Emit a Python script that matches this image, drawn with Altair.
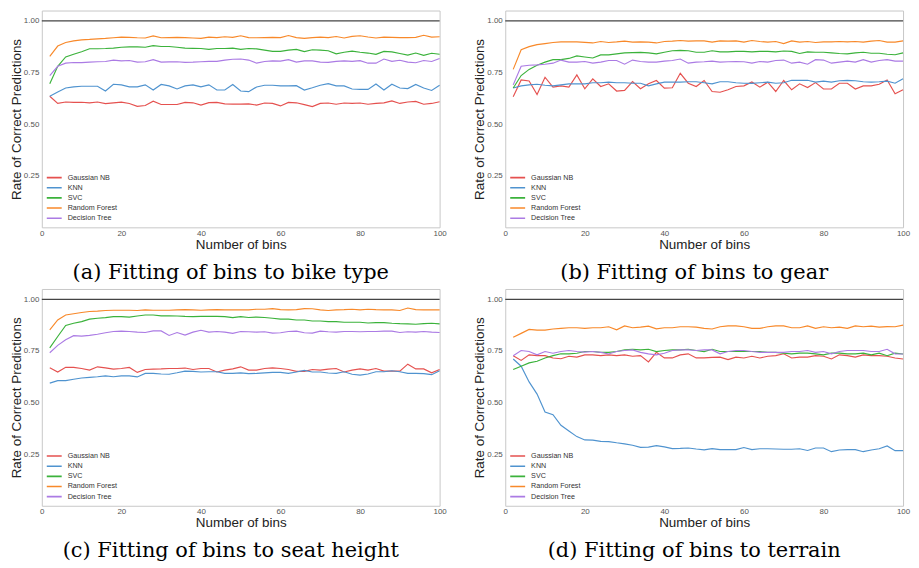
import altair as alt
import pandas as pd

models = ["Gaussian NB", "KNN", "SVC", "Random Forest", "Decision Tree"]
colors = ["#e5514f", "#4f93cf", "#3bb23b", "#f8892a", "#ab7be4"]
bins = list(range(2, 101, 2))
y_ticks = [0.25, 0.5, 0.75, 1.0]
x_ticks = [0, 20, 40, 60, 80, 100]

captions = {
    "a": "(a) Fitting of bins to bike type",
    "b": "(b) Fitting of bins to gear",
    "c": "(c) Fitting of bins to seat height",
    "d": "(d) Fitting of bins to terrain",
}

# ---- panel (a) bike type
a_gnb = [0.635,0.600,0.607,0.605,0.606,0.603,0.607,0.599,0.603,0.606,
         0.600,0.586,0.590,0.611,0.595,0.595,0.595,0.605,0.603,0.592,
         0.604,0.605,0.598,0.597,0.597,0.598,0.592,0.602,0.600,0.588,
         0.605,0.603,0.594,0.585,0.600,0.602,0.596,0.602,0.600,0.602,
         0.596,0.600,0.603,0.612,0.600,0.607,0.610,0.596,0.600,0.608]
a_knn = [0.635,0.655,0.675,0.680,0.683,0.683,0.683,0.660,0.693,0.690,
         0.680,0.680,0.690,0.665,0.692,0.685,0.670,0.685,0.690,0.680,
         0.690,0.665,0.665,0.692,0.660,0.657,0.680,0.688,0.688,0.685,
         0.685,0.686,0.665,0.676,0.688,0.696,0.685,0.685,0.670,0.668,
         0.668,0.694,0.665,0.693,0.675,0.672,0.692,0.675,0.663,0.688]
a_svc = [0.695,0.780,0.825,0.838,0.850,0.865,0.865,0.866,0.868,0.872,
         0.874,0.874,0.872,0.880,0.876,0.876,0.872,0.868,0.867,0.866,
         0.862,0.866,0.866,0.868,0.862,0.866,0.864,0.858,0.852,0.852,
         0.858,0.862,0.851,0.860,0.858,0.855,0.840,0.848,0.853,0.848,
         0.844,0.838,0.852,0.850,0.842,0.834,0.844,0.833,0.843,0.838]
a_rf = [0.828,0.878,0.895,0.903,0.908,0.910,0.913,0.915,0.918,0.921,
        0.920,0.918,0.917,0.927,0.918,0.919,0.920,0.919,0.917,0.915,
        0.921,0.919,0.923,0.920,0.928,0.919,0.918,0.919,0.920,0.919,
        0.929,0.919,0.915,0.919,0.921,0.919,0.924,0.917,0.925,0.928,
        0.922,0.917,0.921,0.920,0.919,0.919,0.920,0.930,0.921,0.923]
a_dt = [0.735,0.780,0.795,0.798,0.798,0.800,0.802,0.803,0.810,0.806,
        0.808,0.800,0.802,0.812,0.800,0.801,0.802,0.799,0.800,0.802,
        0.804,0.804,0.810,0.814,0.815,0.810,0.795,0.803,0.806,0.805,
        0.812,0.800,0.806,0.806,0.800,0.799,0.804,0.806,0.804,0.807,
        0.795,0.795,0.815,0.804,0.809,0.800,0.797,0.808,0.803,0.818]

# ---- panel (b) gear
b_gnb = [0.632,0.714,0.709,0.643,0.727,0.679,0.685,0.679,0.738,0.671,
         0.719,0.682,0.695,0.660,0.663,0.706,0.671,0.695,0.711,0.674,
         0.676,0.746,0.698,0.682,0.711,0.658,0.654,0.666,0.682,0.685,
         0.704,0.679,0.703,0.658,0.711,0.666,0.695,0.677,0.701,0.670,
         0.670,0.698,0.698,0.670,0.685,0.685,0.693,0.714,0.647,0.666]
b_knn = [0.675,0.685,0.690,0.693,0.688,0.685,0.690,0.695,0.695,0.695,
         0.700,0.700,0.703,0.700,0.700,0.698,0.698,0.685,0.695,0.703,
         0.703,0.703,0.705,0.705,0.700,0.695,0.705,0.705,0.700,0.698,
         0.697,0.700,0.703,0.698,0.700,0.712,0.712,0.712,0.703,0.708,
         0.703,0.710,0.712,0.710,0.705,0.703,0.705,0.708,0.698,0.720]
b_svc = [0.675,0.735,0.765,0.785,0.800,0.812,0.812,0.818,0.830,0.825,
         0.820,0.835,0.835,0.840,0.845,0.846,0.847,0.845,0.840,0.848,
         0.855,0.857,0.855,0.848,0.848,0.855,0.850,0.850,0.852,0.852,
         0.850,0.852,0.852,0.850,0.854,0.852,0.842,0.850,0.848,0.848,
         0.845,0.842,0.840,0.845,0.848,0.843,0.843,0.838,0.836,0.845]
b_rf = [0.765,0.860,0.875,0.885,0.890,0.895,0.898,0.898,0.898,0.896,
        0.893,0.900,0.895,0.898,0.902,0.897,0.898,0.897,0.893,0.900,
        0.902,0.905,0.902,0.903,0.903,0.897,0.903,0.902,0.903,0.897,
        0.905,0.900,0.897,0.900,0.890,0.903,0.897,0.900,0.895,0.898,
        0.898,0.900,0.898,0.900,0.897,0.902,0.905,0.897,0.897,0.903]
b_dt = [0.690,0.780,0.785,0.787,0.790,0.795,0.810,0.800,0.800,0.803,
        0.795,0.800,0.808,0.808,0.790,0.810,0.803,0.800,0.800,0.805,
        0.808,0.815,0.795,0.800,0.802,0.805,0.800,0.802,0.803,0.802,
        0.795,0.803,0.800,0.808,0.810,0.795,0.800,0.790,0.812,0.810,
        0.795,0.800,0.805,0.800,0.812,0.800,0.808,0.812,0.805,0.805]

# ---- panel (c) seat height
c_gnb = [0.668,0.648,0.671,0.670,0.665,0.657,0.673,0.668,0.662,0.665,
         0.670,0.646,0.660,0.662,0.663,0.665,0.665,0.667,0.660,0.665,
         0.665,0.648,0.657,0.663,0.673,0.657,0.657,0.665,0.668,0.665,
         0.660,0.651,0.651,0.660,0.657,0.662,0.665,0.648,0.657,0.663,
         0.657,0.665,0.652,0.652,0.652,0.686,0.663,0.663,0.644,0.660]
c_knn = [0.594,0.606,0.606,0.613,0.619,0.622,0.625,0.629,0.625,0.629,
         0.629,0.624,0.641,0.641,0.638,0.637,0.644,0.652,0.651,0.648,
         0.649,0.649,0.641,0.641,0.644,0.640,0.641,0.644,0.646,0.646,
         0.641,0.648,0.656,0.648,0.648,0.643,0.641,0.649,0.637,0.633,
         0.638,0.649,0.649,0.654,0.649,0.641,0.641,0.640,0.635,0.654]
c_svc = [0.765,0.820,0.873,0.884,0.892,0.904,0.908,0.911,0.916,0.916,
         0.914,0.919,0.924,0.924,0.920,0.920,0.919,0.917,0.916,0.917,
         0.917,0.917,0.916,0.911,0.916,0.912,0.914,0.912,0.908,0.904,
         0.904,0.900,0.900,0.895,0.895,0.892,0.892,0.889,0.889,0.889,
         0.885,0.887,0.887,0.884,0.882,0.881,0.879,0.882,0.884,0.881]
c_rf = [0.852,0.900,0.924,0.930,0.936,0.941,0.943,0.946,0.947,0.947,
        0.947,0.946,0.949,0.947,0.947,0.947,0.949,0.950,0.949,0.947,
        0.949,0.950,0.949,0.949,0.949,0.949,0.952,0.952,0.955,0.950,
        0.949,0.950,0.955,0.954,0.949,0.946,0.949,0.950,0.952,0.949,
        0.952,0.950,0.949,0.949,0.946,0.958,0.950,0.949,0.949,0.949]
c_dt = [0.741,0.777,0.804,0.824,0.822,0.825,0.831,0.838,0.844,0.846,
        0.844,0.841,0.839,0.847,0.847,0.825,0.839,0.827,0.841,0.850,
        0.841,0.844,0.841,0.835,0.844,0.843,0.841,0.843,0.836,0.838,
        0.844,0.846,0.838,0.836,0.846,0.843,0.841,0.844,0.844,0.843,
        0.844,0.844,0.846,0.846,0.839,0.843,0.841,0.844,0.841,0.839]

# ---- panel (d) terrain
d_gnb = [0.727,0.704,0.731,0.727,0.727,0.716,0.712,0.724,0.720,0.731,
         0.731,0.727,0.731,0.727,0.731,0.724,0.727,0.697,0.743,0.716,
         0.716,0.731,0.736,0.716,0.716,0.719,0.720,0.708,0.720,0.716,
         0.724,0.716,0.724,0.727,0.736,0.716,0.720,0.720,0.727,0.724,
         0.711,0.731,0.727,0.720,0.731,0.727,0.727,0.724,0.716,0.711]
d_knn = [0.711,0.676,0.600,0.541,0.454,0.441,0.390,0.362,0.335,0.319,
         0.318,0.312,0.311,0.305,0.300,0.293,0.283,0.284,0.291,0.285,
         0.277,0.278,0.280,0.275,0.271,0.277,0.272,0.272,0.272,0.282,
         0.272,0.276,0.276,0.275,0.274,0.274,0.276,0.268,0.280,0.280,
         0.262,0.270,0.272,0.272,0.262,0.270,0.276,0.290,0.267,0.267]
d_svc = [0.660,0.676,0.692,0.700,0.716,0.727,0.736,0.736,0.739,0.747,
         0.747,0.743,0.743,0.747,0.755,0.758,0.755,0.758,0.747,0.752,
         0.755,0.755,0.758,0.752,0.747,0.758,0.747,0.747,0.747,0.747,
         0.747,0.747,0.743,0.743,0.739,0.736,0.739,0.739,0.736,0.731,
         0.739,0.739,0.736,0.736,0.739,0.731,0.739,0.727,0.739,0.735]
d_rf = [0.816,0.835,0.854,0.851,0.851,0.856,0.859,0.862,0.862,0.859,
        0.862,0.862,0.867,0.852,0.871,0.862,0.865,0.870,0.857,0.862,
        0.862,0.867,0.867,0.865,0.859,0.856,0.867,0.871,0.871,0.867,
        0.859,0.859,0.867,0.871,0.871,0.862,0.862,0.871,0.859,0.867,
        0.862,0.865,0.859,0.871,0.867,0.870,0.865,0.868,0.867,0.875]
d_dt = [0.727,0.752,0.747,0.731,0.747,0.739,0.747,0.752,0.747,0.744,
        0.747,0.743,0.735,0.747,0.752,0.755,0.743,0.736,0.731,0.739,
        0.752,0.755,0.755,0.752,0.755,0.755,0.736,0.747,0.752,0.752,
        0.747,0.743,0.743,0.743,0.743,0.747,0.747,0.752,0.743,0.747,
        0.736,0.747,0.752,0.752,0.752,0.747,0.747,0.758,0.736,0.735]

series = {
    "a": [a_gnb, a_knn, a_svc, a_rf, a_dt],
    "b": [b_gnb, b_knn, b_svc, b_rf, b_dt],
    "c": [c_gnb, c_knn, c_svc, c_rf, c_dt],
    "d": [d_gnb, d_knn, d_svc, d_rf, d_dt],
}

W, H = 400, 218
SANS = "Liberation Sans"


def panel(key):
    rows = []
    for m, vals in zip(models, series[key]):
        for b, v in zip(bins, vals):
            rows.append({"bins": b, "rate": v, "model": m})
    df = pd.DataFrame(rows)
    x = alt.X("bins:Q", scale=alt.Scale(domain=[0, 100], nice=False),
              axis=alt.Axis(values=x_ticks, title="Number of bins", labelFlush=False))
    y = alt.Y("rate:Q", scale=alt.Scale(domain=[0, 1.05], nice=False, zero=False),
              axis=alt.Axis(values=y_ticks, format=".2f", labelFlush=False,
                            title="Rate of Correct Predictions"))
    lines = alt.Chart(df).mark_line(strokeWidth=1.15).encode(
        x=x, y=y,
        color=alt.Color("model:N",
                        scale=alt.Scale(domain=models, range=colors),
                        sort=models,
                        legend=alt.Legend(title=None, orient="bottom-left",
                                          offset=4, symbolType="stroke",
                                          symbolSize=225, symbolStrokeWidth=1.6,
                                          labelFontSize=7.2, labelColor="#333",
                                          labelFont=SANS, rowPadding=0.2,
                                          clipHeight=10,
                                          labelOffset=5, padding=0)),
    )
    top = alt.Chart(pd.DataFrame({"rate": [1.0]})).mark_rule(
        color="#444", strokeWidth=1.3).encode(y=alt.Y("rate:Q"))
    return alt.layer(top, lines).properties(
        width=W, height=H,
        title=alt.TitleParams(captions[key], orient="bottom", font="DejaVu Serif",
                              fontSize=21, fontWeight="normal", color="#000",
                              anchor="middle", frame="group", dx=-10, offset=11),
    )


row1 = alt.hconcat(panel("a"), panel("b"), spacing=24).resolve_scale(color="independent")
row2 = alt.hconcat(panel("c"), panel("d"), spacing=24).resolve_scale(color="independent")

chart = alt.vconcat(row1, row2, spacing=5).resolve_scale(
    color="independent").configure(padding=0).configure_view(
    stroke="#c8c8c8", strokeWidth=1).configure_axis(
    grid=False, ticks=False, tickSize=0, domain=False, labelFont=SANS, labelFontSize=8,
    labelColor="#555", labelPadding=3, titleFont=SANS, titleFontSize=13.5,
    titleFontWeight="normal", titleColor="#222").configure_axisX(
    titlePadding=0, labelPadding=2).configure_axisY(titlePadding=0)

chart.save("out.html", embed_options={"renderer": "svg", "actions": False})
